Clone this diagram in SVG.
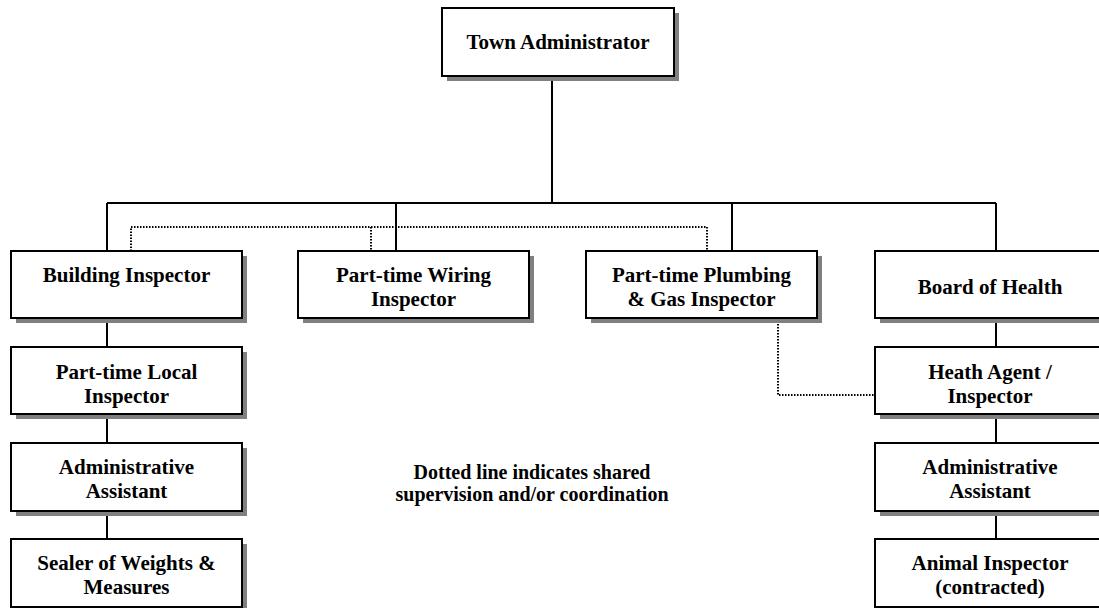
<svg xmlns="http://www.w3.org/2000/svg" width="1099" height="608" viewBox="0 0 1099 608">
<style>
.box{fill:#fff;stroke:#000;stroke-width:2}
.sh{fill:#808080}
.t{font-family:"Liberation Serif","Times New Roman",serif;font-weight:bold;font-size:21px;fill:#000;text-anchor:middle}
.lg{font-size:20px}
.ln{fill:none;stroke:#000;stroke-width:2}
.dot{fill:none;stroke:#000;stroke-width:2;stroke-dasharray:1.5 1.5}
</style>
<rect width="1099" height="608" fill="#fff"/>
<g id="connectors">
<path class="ln" d="M552 76V203M107 203H996M107 203V251M396 203V251M732 203V251M996 203V251"/>
<path class="ln" d="M107 318V347M107 414V443M107 511V539M996 318V347M996 414V443M996 511V539"/>
<path class="dot" d="M131 251V227H707V251M371 227V251"/>
<path class="dot" d="M778 324V395H874"/>
</g>
<g id="town-administrator">
<rect class="sh" x="447" y="13" width="232" height="68"/>
<rect class="box" x="442" y="8" width="232" height="68"/>
<text class="t" x="558" y="49">Town Administrator</text>
</g>
<g id="building-inspector">
<rect class="sh" x="16" y="256" width="231" height="67"/>
<rect class="box" x="11" y="251" width="231" height="67"/>
<text class="t" x="126.5" y="282">Building Inspector</text>
</g>
<g id="wiring-inspector">
<rect class="sh" x="303" y="256" width="231" height="67"/>
<rect class="box" x="298" y="251" width="231" height="67"/>
<text class="t" x="413.5" y="282">Part-time Wiring</text>
<text class="t" x="413.5" y="306">Inspector</text>
</g>
<g id="plumbing-inspector">
<rect class="sh" x="591" y="256" width="231" height="67"/>
<rect class="box" x="586" y="251" width="231" height="67"/>
<text class="t" x="701.5" y="282">Part-time Plumbing</text>
<text class="t" x="701.5" y="306">&amp; Gas Inspector</text>
</g>
<g id="board-of-health">
<rect class="sh" x="880" y="256" width="231" height="67"/>
<rect class="box" x="875" y="251" width="231" height="67"/>
<text class="t" x="990" y="294">Board of Health</text>
</g>
<g id="local-inspector">
<rect class="sh" x="16" y="352" width="231" height="67"/>
<rect class="box" x="11" y="347" width="231" height="67"/>
<text class="t" x="126.5" y="379">Part-time Local</text>
<text class="t" x="126.5" y="403">Inspector</text>
</g>
<g id="admin-assistant-left">
<rect class="sh" x="16" y="448" width="231" height="68"/>
<rect class="box" x="11" y="443" width="231" height="68"/>
<text class="t" x="126.5" y="474">Administrative</text>
<text class="t" x="126.5" y="498">Assistant</text>
</g>
<g id="sealer">
<rect class="sh" x="16" y="544" width="231" height="68"/>
<rect class="box" x="11" y="539" width="231" height="68"/>
<text class="t" x="126.5" y="570">Sealer of Weights &amp;</text>
<text class="t" x="126.5" y="594">Measures</text>
</g>
<g id="health-agent">
<rect class="sh" x="880" y="352" width="231" height="67"/>
<rect class="box" x="875" y="347" width="231" height="67"/>
<text class="t" x="990" y="379">Heath Agent /</text>
<text class="t" x="990" y="403">Inspector</text>
</g>
<g id="admin-assistant-right">
<rect class="sh" x="880" y="448" width="231" height="68"/>
<rect class="box" x="875" y="443" width="231" height="68"/>
<text class="t" x="990" y="474">Administrative</text>
<text class="t" x="990" y="498">Assistant</text>
</g>
<g id="animal-inspector">
<rect class="sh" x="880" y="544" width="231" height="68"/>
<rect class="box" x="875" y="539" width="231" height="68"/>
<text class="t" x="990" y="570">Animal Inspector</text>
<text class="t" x="990" y="594">(contracted)</text>
</g>
<g id="legend">
<text class="t lg" x="532" y="479">Dotted line indicates shared</text>
<text class="t lg" x="532" y="501">supervision and/or coordination</text>
</g>
</svg>
